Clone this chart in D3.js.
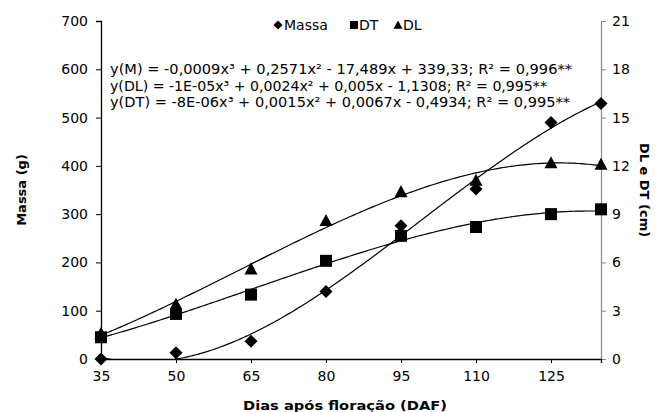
<!DOCTYPE html>
<html>
<head>
<meta charset="utf-8">
<script src="https://cdn.jsdelivr.net/npm/d3@7"></script>
<style>
  body { margin: 0; background: #fff; }
  text { font-family: "DejaVu Sans", sans-serif; fill: #000; }
</style>
</head>
<body>
<div id="chart"></div>
<script>
// data
var dias = [35, 50, 65, 80, 95, 110, 125, 135];
var massa = [0, 13, 37, 140, 276, 352, 490, 529];      // g, left axis
var dl = [1.6, 3.4, 5.6, 8.6, 10.4, 11.1, 12.2, 12.1];  // cm, right axis
var dt = [1.35, 2.8, 4.0, 6.1, 7.65, 8.2, 9.0, 9.3];    // cm, right axis
var xTicks = [35, 50, 65, 80, 95, 110, 125];
var yLeftTicks = [0, 100, 200, 300, 400, 500, 600, 700];
var yRightTicks = [0, 3, 6, 9, 12, 15, 18, 21];
var equacoes = [
  "y(M) = -0,0009x³ + 0,2571x² - 17,489x + 339,33; R² = 0,996**",
  "y(DL) = -1E-05x³ + 0,0024x² + 0,005x - 1,1308; R² = 0,995**",
  "y(DT) = -8E-06x³ + 0,0015x² + 0,0067x - 0,4934; R² = 0,995**"
];

//Plot box (top/left are reserved names on window, so use a margin object)
var W = 659, H = 412;
var plot = {left: 101, right: 601, top: 21, bottom: 359};

var svg = d3.select("#chart").append("svg")
  .attr("width", W).attr("height", H);

var x = d3.scaleLinear().domain([35, 135]).range([plot.left, plot.right]);
var yL = d3.scaleLinear().domain([0, 700]).range([plot.bottom, plot.top]);
var yR = d3.scaleLinear().domain([0, 21]).range([plot.bottom, plot.top]);

//cubic least squares fit (same as the excel trendline)
function polyFit(xs, ys) {
  var n = 4, A = [], b = [];
  for (var i = 0; i < n; i++) {
    A.push([0, 0, 0, 0]); b.push(0);
  }
  xs.forEach(function(xv, k) {
    var t = (xv - 85) / 50;
    for (var i = 0; i < n; i++) {
      for (var j = 0; j < n; j++) A[i][j] += Math.pow(t, i + j);
      b[i] += ys[k] * Math.pow(t, i);
    }
  });
  for (var c = 0; c < n; c++) {
    var p = c;
    for (var r = c + 1; r < n; r++) if (Math.abs(A[r][c]) > Math.abs(A[p][c])) p = r;
    var tmp = A[c]; A[c] = A[p]; A[p] = tmp;
    var tb = b[c]; b[c] = b[p]; b[p] = tb;
    for (var r2 = c + 1; r2 < n; r2++) {
      var f = A[r2][c] / A[c][c];
      for (var j2 = c; j2 < n; j2++) A[r2][j2] -= f * A[c][j2];
      b[r2] -= f * b[c];
    }
  }
  var coef = [0, 0, 0, 0];
  for (var r3 = n - 1; r3 >= 0; r3--) {
    var s = b[r3];
    for (var j3 = r3 + 1; j3 < n; j3++) s -= A[r3][j3] * coef[j3];
    coef[r3] = s / A[r3][r3];
  }
  return function(xv) {
    var t = (xv - 85) / 50;
    return coef[0] + coef[1] * t + coef[2] * t * t + coef[3] * t * t * t;
  };
}

// clip for trend lines
svg.append("defs").append("clipPath").attr("id", "plotclip")
  .append("rect").attr("x", plot.left).attr("y", plot.top)
  .attr("width", plot.right - plot.left).attr("height", plot.bottom - plot.top);

// axes
svg.append("g")
  .attr("transform", "translate(" + plot.left + ",0)")
  .call(d3.axisLeft(yL).tickValues(yLeftTicks).tickSize(5).tickPadding(8))
  .call(function(g) {
    g.select(".domain").attr("stroke", "#000").attr("stroke-width", 1.3);
    g.selectAll(".tick line").attr("stroke", "#000");
    g.selectAll("text").style("font-size", "14px").attr("fill", "#000");
  });

svg.append("g")
  .attr("transform", "translate(" + plot.right + ",0)")
  .call(d3.axisRight(yR).tickValues(yRightTicks).tickSize(5).tickPadding(6))
  .call(function(g) {
    g.select(".domain").attr("stroke", "#888").attr("stroke-width", 1.2);
    g.selectAll(".tick line").attr("stroke", "#888");
    g.selectAll("text").style("font-size", "14px").attr("fill", "#000");
  });

svg.append("g")
  .attr("transform", "translate(0," + plot.bottom + ")")
  .call(d3.axisBottom(x).tickValues(xTicks).tickSize(4).tickPadding(8))
  .call(function(g) {
    g.select(".domain").attr("stroke", "#000").attr("stroke-width", 1.3);
    g.selectAll(".tick line").attr("stroke", "#000");
    g.selectAll(".tick").filter(function(d) { return d === 35; }).select("line").remove();
    g.selectAll("text").style("font-size", "14px").attr("fill", "#000");
  });

// axis titles
svg.append("text")
  .attr("transform", "translate(26," + ((plot.top + plot.bottom) / 2) + ") rotate(-90)")
  .attr("text-anchor", "middle")
  .style("font-size", "13px").style("font-weight", "bold")
  .text("Massa (g)");

svg.append("text")
  .attr("transform", "translate(640," + ((plot.top + plot.bottom) / 2) + ") rotate(90)")
  .attr("text-anchor", "middle")
  .style("font-size", "13px").style("font-weight", "bold")
  .text("DL e DT (cm)");

svg.append("text")
  .attr("x", 345).attr("y", 410)
  .attr("text-anchor", "middle")
  .style("font-size", "13px").style("font-weight", "bold")
  .attr("textLength", 204).attr("lengthAdjust", "spacingAndGlyphs")
  .text("Dias após floração (DAF)");

// marker shapes
function diamond(s) { return "M0," + (-s) + "L" + s + ",0L0," + s + "L" + (-s) + ",0Z"; }
function square(s) { return "M" + (-s) + "," + (-s) + "h" + (2 * s) + "v" + (2 * s) + "h" + (-2 * s) + "Z"; }
function triangle(s) { return "M0," + (-s) + "L" + s + "," + (s * 0.85) + "L" + (-s) + "," + (s * 0.85) + "Z"; }

var series = [
  {name: "Massa", vals: massa, y: yL, shape: diamond, size: 6.5},
  {name: "DT", vals: dt, y: yR, shape: square, size: 6},
  {name: "DL", vals: dl, y: yR, shape: triangle, size: 6.5}
];

var xsFine = d3.range(35, 135.01, 0.5);
var line = d3.line();

series.forEach(function(s) {
  var f = polyFit(dias, s.vals);
  svg.append("path")
    .attr("clip-path", "url(#plotclip)")
    .attr("fill", "none").attr("stroke", "#000").attr("stroke-width", 1.2)
    .attr("d", line(xsFine.map(function(d) { return [x(d), s.y(f(d))]; })));
});

series.forEach(function(s) {
  svg.append("g").selectAll("path")
    .data(s.vals)
    .enter().append("path")
    .attr("transform", function(d, i) { return "translate(" + x(dias[i]) + "," + s.y(d) + ")"; })
    .attr("d", s.shape(s.size))
    .attr("fill", "#000");
});

// legend
var legend = [
  {label: "Massa", shape: diamond, s: 4.5, mx: 278, tx: 284},
  {label: "DT", shape: square, s: 4, mx: 354, tx: 359},
  {label: "DL", shape: triangle, s: 4.5, mx: 398, tx: 403}
];
legend.forEach(function(l) {
  svg.append("path")
    .attr("transform", "translate(" + l.mx + ",25)")
    .attr("d", l.shape(l.s)).attr("fill", "#000");
  svg.append("text")
    .attr("x", l.tx).attr("y", 30)
    .style("font-size", "14px")
    .text(l.label);
});

// equations
equacoes.forEach(function(eq, i) {
  svg.append("text")
    .attr("x", 110).attr("y", 74 + i * 16.5)
    .style("font-size", "13.5px")
    .attr("textLength", [462, 437, 460][i]).attr("lengthAdjust", "spacingAndGlyphs")
    .text(eq);
});
</script>
</body>
</html>
